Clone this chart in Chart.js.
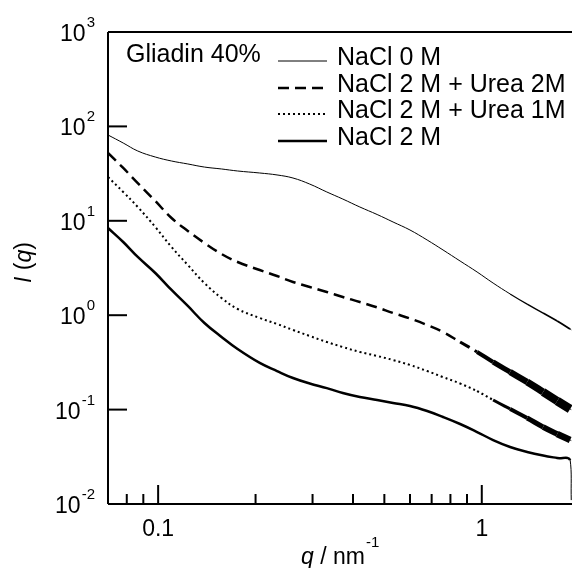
<!DOCTYPE html>
<html>
<head>
<meta charset="utf-8">
<script src="https://cdn.jsdelivr.net/npm/chart.js@4/dist/chart.umd.min.js"></script>
<style>
  body { margin: 0; background: #fff; }
</style>
</head>
<body>
<canvas id="c" width="572" height="568"></canvas>
<script>
// q values (nm^-1)
const qValues = [0.07, 0.078, 0.0865, 0.098, 0.110, 0.1235, 0.139, 0.157, 0.176, 0.206,
  0.233, 0.261, 0.294, 0.332, 0.372, 0.420, 0.475, 0.532, 0.600, 0.678,
  0.759, 0.857, 0.967, 1.084, 1.223, 1.381, 1.547, 1.71, 1.875, 1.89];

const nacl0 = [81.1, 66.7, 54.9, 47.4, 43.0, 40.0, 37.1, 35.4, 33.7, 32.1,
  30.6, 28.4, 24.5, 20.2, 17.0, 14.0, 11.66, 9.71, 7.99, 6.26,
  4.91, 3.75, 2.87, 2.19, 1.68, 1.31, 1.055, 0.868, 0.714, 0.70];
const nacl2urea2 = [52.3, 36.3, 25.1, 16.2, 10.7, 7.80, 5.82, 4.45, 3.66, 3.01,
  2.60, 2.25, 1.99, 1.76, 1.56, 1.38, 1.21, 1.055, 0.923, 0.787,
  0.664, 0.520, 0.408, 0.319, 0.250, 0.196, 0.1536, 0.1234, 0.1015, 0.10];
const nacl2urea1 = [29.1, 20.2, 14.0, 8.60, 5.28, 3.40, 2.19, 1.52, 1.163, 0.934,
  0.807, 0.697, 0.602, 0.520, 0.460, 0.408, 0.370, 0.335, 0.297, 0.256,
  0.221, 0.189, 0.157, 0.1264, 0.1015, 0.0815, 0.0654, 0.0551, 0.0476, 0.047];
const nacl2 = [8.39, 5.96, 4.14, 2.80, 1.85, 1.252, 0.827, 0.588, 0.438, 0.312,
  0.256, 0.216, 0.189, 0.169, 0.150, 0.136, 0.1264, 0.1175, 0.1092, 0.0966,
  0.0835, 0.0704, 0.0579, 0.0476, 0.0402, 0.0356, 0.0326, 0.0307, 0.0292, 0.011];

const labels = ['NaCl 0 M', 'NaCl 2 M + Urea 2M', 'NaCl 2 M + Urea 1M', 'NaCl 2 M'];
const yExponents = [-2, -1, 0, 1, 2, 3];
const xMajor = [0.1, 1];
const xMinor = [0.08, 0.09, 0.2, 0.3, 0.4, 0.5, 0.6, 0.7, 0.8, 0.9];

const FONT = "'Liberation Sans', Arial, sans-serif";

function pts(ys) {
  return ys.map((y, i) => ({ x: qValues[i], y: y }));
}

// line style per series; the noisy high-q tail gets a widening solid band
const styles = [
  { width: 1, dash: [], noiseFrom: 1.2, grow: 5, solidFrom: 99 },
  { width: 2.5, dash: [11, 6], noiseFrom: 0.85, grow: 20, solidFrom: 1.0 },
  { width: 2, dash: [2, 3], noiseFrom: 1.0, grow: 18, solidFrom: 1.1 },
  { width: 2.5, dash: [], noiseFrom: 99, grow: 0, solidFrom: 99 }
];

const series = [nacl0, nacl2urea2, nacl2urea1, nacl2];

// axes, ticks, labels, legend all drawn by hand
const decor = {
  id: 'decor',
  afterDraw(chart) {
    const c = chart.ctx;
    const xs = chart.scales.x, ys = chart.scales.y;
    const a = chart.chartArea;
    c.save();
    c.strokeStyle = '#000';
    c.fillStyle = '#000';
    c.lineWidth = 2;
    c.setLineDash([]);

    // frame: left, bottom, top
    c.beginPath();
    c.moveTo(a.left, a.top); c.lineTo(a.right, a.top);
    c.moveTo(a.left, a.top); c.lineTo(a.left, a.bottom);
    c.moveTo(a.left, a.bottom); c.lineTo(a.right, a.bottom);
    c.stroke();

    // y ticks
    yExponents.forEach(e => {
      const y = ys.getPixelForValue(Math.pow(10, e));
      c.beginPath();
      c.moveTo(a.left, y); c.lineTo(a.left + 19, y);
      c.stroke();
      c.textAlign = 'right';
      c.textBaseline = 'alphabetic';
      c.font = '15px ' + FONT;
      const sup = String(e);
      c.fillText(sup, 95, y - 5);
      const w = c.measureText(sup).width;
      c.font = '23px ' + FONT;
      c.fillText('10', 95 - w - 1, y + 9);
    });

    // x ticks
    xMajor.forEach(v => {
      const x = xs.getPixelForValue(v);
      c.beginPath();
      c.moveTo(x, a.bottom); c.lineTo(x, a.bottom - 19);
      c.stroke();
      c.font = '23px ' + FONT;
      c.textAlign = 'center';
      c.fillText(String(v), x, 536);
    });
    xMinor.forEach(v => {
      const x = xs.getPixelForValue(v);
      c.beginPath();
      c.moveTo(x, a.bottom); c.lineTo(x, a.bottom - 10);
      c.stroke();
    });

    // x title: q / nm^-1
    c.textAlign = 'left';
    c.font = 'italic 23px ' + FONT;
    c.fillText('q', 301, 564);
    let xx = 301 + c.measureText('q').width;
    c.font = '23px ' + FONT;
    c.fillText(' / nm', xx, 564);
    xx += c.measureText(' / nm').width + 1;
    c.font = '15px ' + FONT;
    c.fillText('-1', xx, 547);

    // y title: I (q)
    c.save();
    c.translate(31, 283);
    c.rotate(-Math.PI / 2);
    c.textAlign = 'left';
    c.font = 'italic 23px ' + FONT;
    c.fillText('I', 0, 0);
    let yy = c.measureText('I').width;
    c.font = '23px ' + FONT;
    c.fillText(' (', yy, 0);
    yy += c.measureText(' (').width;
    c.font = 'italic 23px ' + FONT;
    c.fillText('q', yy, 0);
    yy += c.measureText('q').width;
    c.font = '23px ' + FONT;
    c.fillText(')', yy, 0);
    c.restore();

    // annotation
    c.font = '25px ' + FONT;
    c.textAlign = 'left';
    c.fillText('Gliadin 40%', 126, 62);

    // legend
    const base = [65, 92, 118, 145];
    labels.forEach((t, i) => {
      c.lineWidth = styles[i].width;
      c.setLineDash(styles[i].dash);
      c.beginPath();
      c.moveTo(278, base[i] - 4); c.lineTo(327, base[i] - 4);
      c.stroke();
      c.setLineDash([]);
      c.fillText(t, 337, base[i]);
    });
    c.restore();
  }
};

function midQ(ctx) {
  return Math.sqrt(ctx.p0.parsed.x * ctx.p1.parsed.x);
}
function segWidth(st) {
  return ctx => {
    const q = midQ(ctx);
    if (ctx.p1.parsed.x / ctx.p0.parsed.x < 1.02) return 1;  // last drop is thin
    if (q <= st.noiseFrom) return st.width;
    return st.width + st.grow * Math.log10(q / st.noiseFrom);
  };
}
function segDash(st) {
  return ctx => midQ(ctx) >= st.solidFrom ? [] : st.dash;
}

new Chart(document.getElementById('c'), {
  type: 'line',
  data: {
    datasets: series.map((s, i) => ({
      label: labels[i],
      data: pts(s),
      borderColor: '#000',
      borderWidth: styles[i].width,
      borderDash: styles[i].dash,
      borderCapStyle: 'butt',
      pointRadius: 0,
      fill: false,
      tension: 0.4,
      segment: { borderWidth: segWidth(styles[i]), borderDash: segDash(styles[i]) }
    }))
  },
  options: {
    responsive: false,
    animation: false,
    layout: { padding: { left: 108, top: 32, right: 0, bottom: 64 } },
    plugins: { legend: { display: false }, tooltip: { enabled: false } },
    scales: {
      x: { type: 'logarithmic', min: 0.07, max: 1.9, display: false },
      y: { type: 'logarithmic', min: 0.01, max: 1000, display: false }
    }
  },
  plugins: [decor]
});
</script>
</body>
</html>
